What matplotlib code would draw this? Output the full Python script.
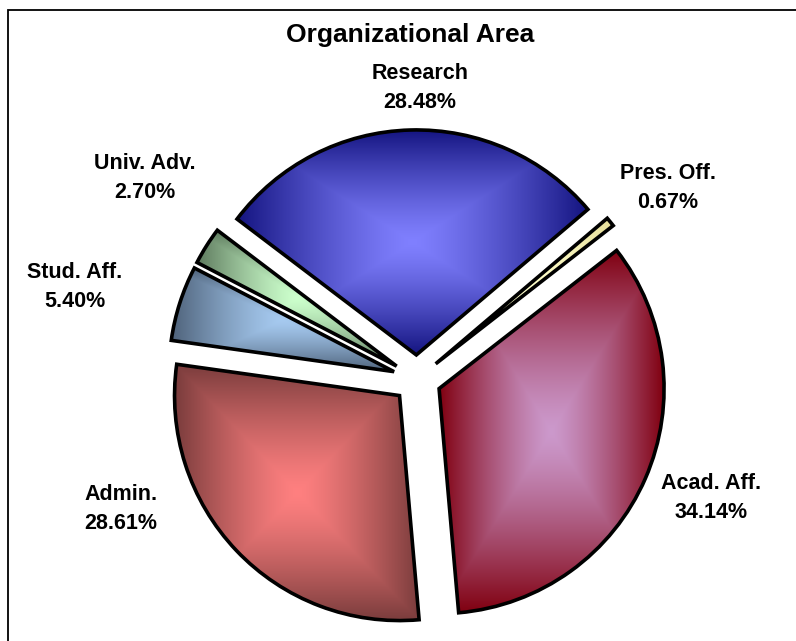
import numpy as np
import matplotlib
matplotlib.use("Agg")
import matplotlib.pyplot as plt
from matplotlib.colors import to_rgb
from matplotlib.patches import Rectangle

# ---- data ----
categories = ["Acad. Aff.", "Admin.", "Stud. Aff.", "Univ. Adv.", "Research", "Pres. Off."]
shares = [34.14, 28.61, 5.40, 2.70, 28.48, 0.67]
center_colors = ["#CC99CC", "#FF8080", "#A6CAF0", "#CCFFCC", "#8080FF", "#FFFFCC"]
edge_colors = ["#800010", "#7A3C3C", "#4E627A", "#5E7A5E", "#141480", "#E6DE9A"]
# label positions (pie radius units, relative to pie centre)
label_pos = [(1.307, -0.529), (-1.316, -0.578), (-1.52, 0.409),
             (-1.209, 0.893), (0.013, 1.293), (1.116, 0.849)]
title = "Organizational Area"

W, H = 796, 641
R = 225.0          # pie radius in pixels
CX, CY = 417, 379  # pie centre in pixels (from top-left)

plt.rcParams['font.family'] = ['Liberation Sans', 'DejaVu Sans']

fig = plt.figure(figsize=(W / 100, H / 100), dpi=100)
fig.patch.set_facecolor('white')
ax = fig.add_axes([0, 0, 1, 1])

wedges, _ = ax.pie(shares, startangle=37.9, counterclock=False,
                   explode=[0.107] * len(shares), radius=1.0,
                   wedgeprops=dict(facecolor='none', edgecolor='black',
                                   linewidth=2.6, joinstyle='miter'))

for w, cc, ec in zip(wedges, center_colors, edge_colors):
    w.set_zorder(3)
    bb = w.get_path().get_extents()
    nx = max(int(bb.width * R) + 2, 4)
    ny = max(int(bb.height * R) + 2, 4)
    X, Y = np.meshgrid(np.linspace(-1, 1, nx), np.linspace(-1, 1, ny))
    t = np.maximum(np.abs(X), np.abs(Y)) ** 1.3
    c0 = np.array(to_rgb(cc))
    c1 = np.array(to_rgb(ec))
    img = c0 * (1 - t[..., None]) + c1 * t[..., None]
    im = ax.imshow(img, extent=[bb.x0, bb.x1, bb.y0, bb.y1], origin='lower',
                   interpolation='bilinear', aspect='auto', zorder=2)
    im.set_clip_path(w)

for cat, val, (lx, ly) in zip(categories, shares, label_pos):
    ax.text(lx, ly, f"{cat}\n{val:.2f}%", ha='center', va='center',
            fontsize=15.5, fontweight='bold', linespacing=1.55, zorder=5)

ax.set_xlim(-CX / R, (W - CX) / R)
ax.set_ylim(-(H - CY) / R, CY / R)
ax.axis('off')

fig.text(410 / W, 1 - 35 / H, title, ha='center', va='center',
         fontsize=19, fontweight='bold')

# chart-area border (only top and left visible in the crop)
fig.add_artist(Rectangle((8 / W, -0.1), 1.2, (H - 10) / H + 0.1,
                         transform=fig.transFigure, fill=False,
                         edgecolor='black', linewidth=1.3, clip_on=False))

fig.savefig("out.png", dpi=100, facecolor='white')
